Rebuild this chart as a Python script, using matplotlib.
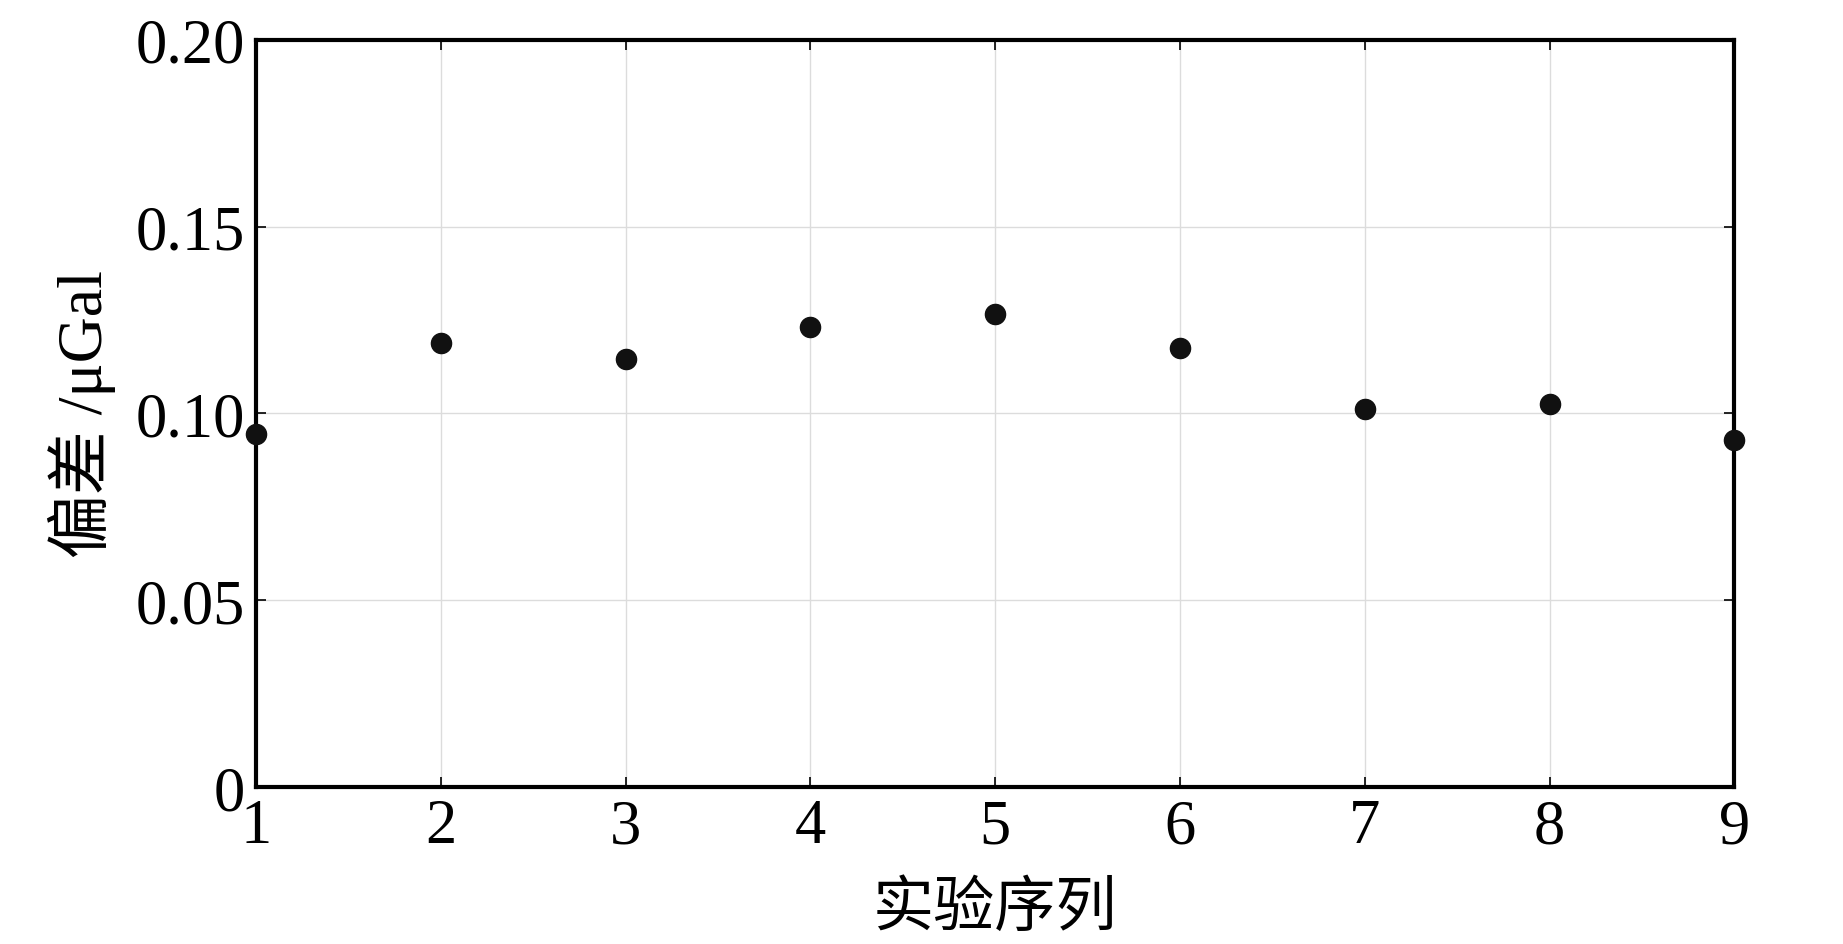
import numpy as np
import matplotlib
matplotlib.use('Agg')
from matplotlib import pyplot as plt

# 数据
runs = [1, 2, 3, 4, 5, 6, 7, 8, 9]
deviation = [0.0945, 0.1187, 0.1146, 0.1231, 0.1266, 0.1175, 0.1011, 0.1024, 0.0929]
yticks = [0, 0.05, 0.10, 0.15, 0.20]
ytick_labels = ['0', '0.05', '0.10', '0.15', '0.20']

plt.rcParams['font.family'] = ['Liberation Serif', 'Noto Sans CJK SC']

fig = plt.figure(figsize=(18.43, 9.45), dpi=100)
ax = fig.add_axes([0.139, 0.166, 0.802, 0.791])

ax.plot(runs, deviation, 'o', color='#111111', markersize=14.5, clip_on=False, zorder=5)

ax.set_xlim(1, 9)
ax.set_ylim(0, 0.20)
ax.set_xticks(runs)
ax.set_yticks(yticks)
ax.set_yticklabels(ytick_labels)

ax.grid(True, color='#dcdcdc', linewidth=1.0)
ax.set_axisbelow(True)

for s in ax.spines.values():
    s.set_linewidth(3)

ax.tick_params(direction='in', length=7, width=1.2, top=True, right=True,
               labelsize=45, pad=8)

ax.set_xlabel('实验序列', fontsize=44, labelpad=18)
ax.set_ylabel('偏差 /μGal', fontsize=46, labelpad=14)

fig.savefig('out.png', dpi=100)
